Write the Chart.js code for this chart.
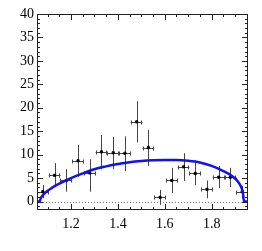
<!DOCTYPE html>
<html>
<head>
<meta charset="utf-8">
<script src="https://cdn.jsdelivr.net/npm/chart.js@4/dist/chart.umd.min.js"></script>
<style>
  html, body { margin: 0; padding: 0; background: #fff; }
</style>
</head>
<body>
<canvas id="chart" width="262" height="251"></canvas>
<script>
const binCenters = [1.08, 1.13, 1.18, 1.23, 1.28, 1.33, 1.38, 1.43, 1.48, 1.53, 1.58, 1.63, 1.68, 1.73, 1.78, 1.83, 1.88, 1.93];
const counts     = [2.1, 5.6, 4.5, 8.7, 6.1, 10.6, 10.4, 10.3, 17.0, 11.5, 0.9, 4.5, 7.4, 6.0, 2.6, 5.2, 5.2, 2.1];
const errLow     = [0.7, 3.1, 2.1, 5.3, 2.1, 6.9, 6.9, 6.5, 12.6, 7.6, -0.7, 1.8, 4.4, 3.5, 0.7, 2.9, 3.1, 0.7];
const errHigh    = [3.5, 8.2, 6.9, 12.1, 9.0, 14.2, 13.8, 13.9, 21.4, 15.3, 2.5, 7.2, 10.3, 8.7, 4.5, 7.6, 7.2, 3.3];
const binHalfWidth = 0.025;

// fitted curve (blue), read point by point
const fitX = [1.055, 1.066, 1.072, 1.086, 1.10, 1.115, 1.13, 1.157, 1.20, 1.25, 1.30, 1.35, 1.40, 1.45, 1.50, 1.55, 1.60, 1.65, 1.70, 1.75, 1.80, 1.85, 1.885, 1.91, 1.925, 1.933, 1.938, 1.955];
const fitY = [0, 0, 0.8, 1.7, 2.3, 2.8, 3.3, 4.0, 5.0, 6.0, 6.9, 7.5, 8.0, 8.4, 8.65, 8.8, 8.85, 8.85, 8.7, 8.35, 7.6, 6.5, 5.5, 4.4, 3.2, 2.0, 0, 0];

const xTicks = [1.2, 1.4, 1.6, 1.8];
const yTicks = [0, 5, 10, 15, 20, 25, 30, 35, 40];
const xRange = [1.055, 1.955];
const yRange = [-1.8, 40];

// frame, inward ticks on all sides, dotted zero line and error bars
const framePlugin = {
    id: 'frame',
    beforeDatasetsDraw(chart) {
        const ctx = chart.ctx;
        const a = chart.chartArea;
        const xs = chart.scales.x, ys = chart.scales.y;
        ctx.save();
        // dotted line at zero
        ctx.strokeStyle = '#777';
        ctx.lineWidth = 1;
        ctx.setLineDash([1, 2]);
        const y0 = Math.round(ys.getPixelForValue(0)) + 0.5;
        ctx.beginPath();
        ctx.moveTo(a.left, y0);
        ctx.lineTo(a.right, y0);
        ctx.stroke();
        ctx.setLineDash([]);

        // error bars
        ctx.strokeStyle = '#444';
        binCenters.forEach((c, i) => {
            const px = Math.round(xs.getPixelForValue(c)) + 0.5;
            const py = Math.round(ys.getPixelForValue(counts[i])) + 0.5;
            ctx.beginPath();
            ctx.moveTo(px, Math.min(ys.getPixelForValue(errLow[i]), a.bottom));
            ctx.lineTo(px, ys.getPixelForValue(errHigh[i]));
            ctx.moveTo(xs.getPixelForValue(c - binHalfWidth), py);
            ctx.lineTo(xs.getPixelForValue(c + binHalfWidth), py);
            ctx.stroke();
            // small end caps on the horizontal bar
            ctx.beginPath();
            ctx.moveTo(Math.round(xs.getPixelForValue(c - binHalfWidth)) + 0.5, py - 2);
            ctx.lineTo(Math.round(xs.getPixelForValue(c - binHalfWidth)) + 0.5, py + 2);
            ctx.moveTo(Math.round(xs.getPixelForValue(c + binHalfWidth)) - 0.5, py - 2);
            ctx.lineTo(Math.round(xs.getPixelForValue(c + binHalfWidth)) - 0.5, py + 2);
            ctx.stroke();
        });
        ctx.restore();
    },
    afterDraw(chart) {
        const ctx = chart.ctx;
        const a = chart.chartArea;
        const xs = chart.scales.x, ys = chart.scales.y;
        ctx.save();
        ctx.strokeStyle = '#222';
        ctx.lineWidth = 1;
        ctx.strokeRect(a.left + 0.5, a.top + 0.5, a.right - a.left - 1, a.bottom - a.top - 1);

        ctx.beginPath();
        // x ticks, every 0.05, major on the labelled values
        for (let v = 1.1; v < xRange[1]; v += 0.05) {
            const val = Math.round(v * 100) / 100;
            const major = xTicks.some(t => Math.abs(t - val) < 1e-6);
            const len = major ? 6 : 3;
            const px = Math.round(xs.getPixelForValue(val)) + 0.5;
            ctx.moveTo(px, a.bottom);
            ctx.lineTo(px, a.bottom - len);
            ctx.moveTo(px, a.top);
            ctx.lineTo(px, a.top + len);
        }
        // y ticks, every 1, major every 5
        for (let v = -1; v <= yRange[1]; v++) {
            const major = v % 5 === 0;
            const len = major ? 6 : 3;
            const py = Math.round(ys.getPixelForValue(v)) + 0.5;
            ctx.moveTo(a.left, py);
            ctx.lineTo(a.left + len, py);
            ctx.moveTo(a.right, py);
            ctx.lineTo(a.right - len, py);
        }
        ctx.stroke();
        ctx.restore();
    }
};

const ctx = document.getElementById('chart');

new Chart(ctx, {
    type: 'scatter',
    data: {
        datasets: [
            {
                type: 'line',
                label: 'fit',
                data: fitX.map((x, i) => ({ x: x, y: fitY[i] })),
                borderColor: '#1010f0',
                borderWidth: 2.5,
                pointRadius: 0,
                fill: false,
                cubicInterpolationMode: 'monotone'
            },
            {
                label: 'data',
                data: binCenters.map((x, i) => ({ x: x, y: counts[i] })),
                backgroundColor: '#000',
                borderColor: '#000',
                pointRadius: 1.5,
                pointStyle: 'rect'
            }
        ]
    },
    options: {
        responsive: false,
        animation: false,
        layout: { padding: { top: 14, right: 14, left: 0, bottom: 0 } },
        plugins: {
            legend: { display: false },
            tooltip: { enabled: false }
        },
        scales: {
            x: {
                type: 'linear',
                min: xRange[0],
                max: xRange[1],
                afterBuildTicks: s => { s.ticks = xTicks.map(v => ({ value: v })); },
                afterFit: s => { s.height = 41; },
                grid: { display: false, drawTicks: false },
                border: { display: false },
                ticks: {
                    padding: 6,
                    color: '#000',
                    font: { family: 'Liberation Serif', size: 14 },
                    maxRotation: 0,
                    callback: v => v.toFixed(1)
                }
            },
            y: {
                type: 'linear',
                min: yRange[0],
                max: yRange[1],
                afterBuildTicks: s => { s.ticks = yTicks.map(v => ({ value: v })); },
                afterFit: s => { s.width = 37; },
                grid: { display: false, drawTicks: false },
                border: { display: false },
                ticks: {
                    padding: 3,
                    color: '#000',
                    font: { family: 'Liberation Serif', size: 14 }
                }
            }
        }
    },
    plugins: [framePlugin]
});
</script>
</body>
</html>
